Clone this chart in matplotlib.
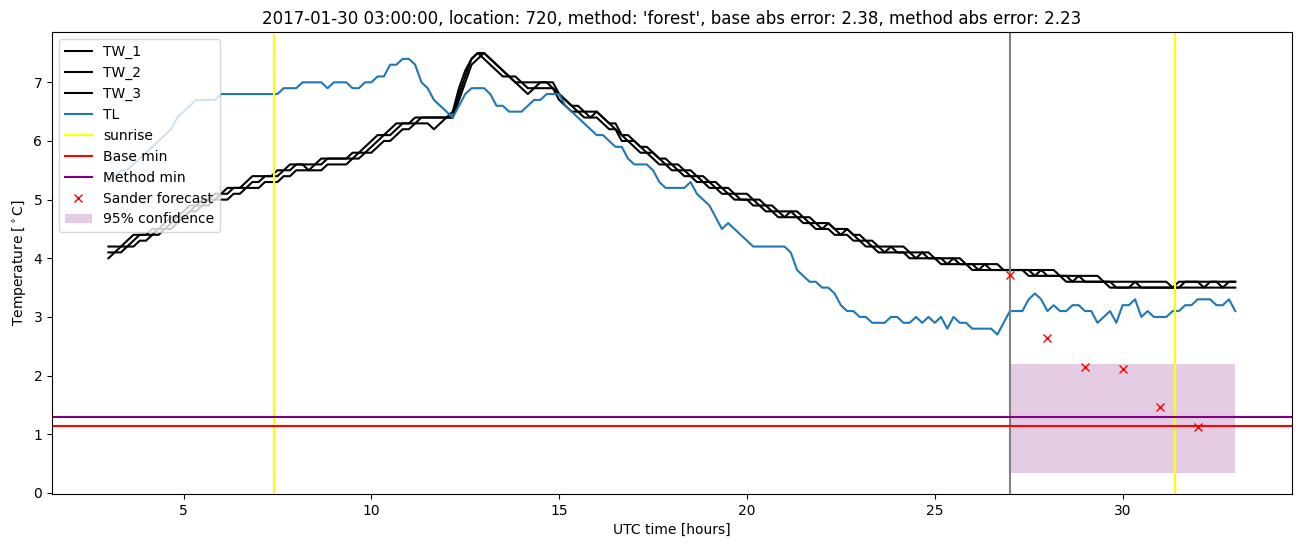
import matplotlib
matplotlib.use("Agg")
import matplotlib.pyplot as plt
import numpy as np
import pandas as pd

# measurements every 10 minutes, 2017-01-30 03:00 .. 2017-01-31 09:00 UTC
times = pd.date_range("2017-01-30 03:00", "2017-01-31 09:00", freq="10min")
hours = ((times - times[0].normalize()) / pd.Timedelta(hours=1)).to_numpy()

tw_1 = [
    4.2, 4.2, 4.2, 4.3, 4.4, 4.4,
    4.4, 4.5, 4.5, 4.6, 4.7, 4.7,
    4.8, 4.9, 4.9, 5.0, 5.0, 5.1,
    5.1, 5.2, 5.2, 5.2, 5.3, 5.4,
    5.4, 5.4, 5.4, 5.5, 5.5, 5.6,
    5.6, 5.6, 5.6, 5.6, 5.7, 5.7,
    5.7, 5.7, 5.7, 5.8, 5.8, 5.9,
    6.0, 6.1, 6.1, 6.2, 6.3, 6.3,
    6.3, 6.4, 6.4, 6.4, 6.4, 6.4,
    6.4, 6.5, 6.9, 7.2, 7.4, 7.5,
    7.4, 7.3, 7.2, 7.1, 7.1, 7.0,
    6.9, 6.8, 6.9, 6.9, 6.9, 6.9,
    6.7, 6.6, 6.5, 6.5, 6.4, 6.4,
    6.4, 6.3, 6.2, 6.2, 6.0, 6.0,
    5.9, 5.8, 5.8, 5.7, 5.6, 5.6,
    5.5, 5.5, 5.4, 5.4, 5.3, 5.3,
    5.2, 5.2, 5.1, 5.1, 5.0, 5.0,
    5.0, 4.9, 4.9, 4.8, 4.8, 4.7,
    4.7, 4.7, 4.7, 4.6, 4.6, 4.5,
    4.5, 4.5, 4.4, 4.4, 4.4, 4.3,
    4.3, 4.2, 4.2, 4.1, 4.1, 4.1,
    4.1, 4.1, 4.0, 4.0, 4.0, 4.0,
    4.0, 3.9, 3.9, 3.9, 3.9, 3.9,
    3.8, 3.8, 3.8, 3.8, 3.8, 3.8,
    3.8, 3.8, 3.8, 3.7, 3.7, 3.7,
    3.7, 3.7, 3.7, 3.6, 3.6, 3.6,
    3.6, 3.6, 3.6, 3.6, 3.5, 3.5,
    3.5, 3.5, 3.5, 3.5, 3.5, 3.5,
    3.5, 3.5, 3.5, 3.5, 3.5, 3.5,
    3.5, 3.5, 3.5, 3.5, 3.5, 3.5,
    3.5,
]

tw_2 = [
    4.1, 4.1, 4.2, 4.2, 4.3, 4.4,
    4.4, 4.4, 4.5, 4.5, 4.6, 4.7,
    4.7, 4.8, 4.9, 4.9, 5.0, 5.0,
    5.1, 5.1, 5.2, 5.2, 5.2, 5.3,
    5.3, 5.4, 5.4, 5.4, 5.5, 5.5,
    5.6, 5.6, 5.5, 5.6, 5.6, 5.7,
    5.7, 5.7, 5.7, 5.7, 5.8, 5.8,
    5.9, 6.0, 6.1, 6.1, 6.2, 6.3,
    6.3, 6.3, 6.4, 6.4, 6.4, 6.4,
    6.4, 6.4, 6.8, 7.1, 7.4, 7.5,
    7.5, 7.4, 7.3, 7.2, 7.1, 7.0,
    7.0, 6.9, 6.9, 7.0, 7.0, 6.9,
    6.8, 6.7, 6.6, 6.5, 6.5, 6.4,
    6.5, 6.4, 6.3, 6.2, 6.1, 6.0,
    6.0, 5.9, 5.8, 5.8, 5.7, 5.6,
    5.6, 5.5, 5.5, 5.4, 5.4, 5.3,
    5.3, 5.2, 5.2, 5.1, 5.1, 5.0,
    5.0, 5.0, 4.9, 4.9, 4.8, 4.8,
    4.7, 4.8, 4.7, 4.7, 4.6, 4.6,
    4.5, 4.6, 4.5, 4.4, 4.5, 4.4,
    4.3, 4.3, 4.2, 4.2, 4.1, 4.2,
    4.1, 4.1, 4.1, 4.0, 4.1, 4.0,
    4.0, 4.0, 3.9, 4.0, 3.9, 3.9,
    3.9, 3.8, 3.9, 3.8, 3.8, 3.8,
    3.8, 3.8, 3.8, 3.8, 3.7, 3.8,
    3.7, 3.7, 3.7, 3.7, 3.6, 3.7,
    3.6, 3.6, 3.6, 3.6, 3.6, 3.5,
    3.5, 3.5, 3.6, 3.5, 3.5, 3.5,
    3.5, 3.5, 3.5, 3.5, 3.6, 3.6,
    3.6, 3.5, 3.6, 3.6, 3.5, 3.6,
    3.6,
]

tw_3 = [
    4.0, 4.1, 4.1, 4.2, 4.2, 4.3,
    4.3, 4.4, 4.4, 4.5, 4.5, 4.6,
    4.7, 4.8, 4.8, 4.9, 4.9, 5.0,
    5.0, 5.0, 5.1, 5.1, 5.2, 5.2,
    5.2, 5.3, 5.3, 5.3, 5.4, 5.4,
    5.5, 5.5, 5.5, 5.5, 5.5, 5.6,
    5.6, 5.6, 5.6, 5.7, 5.7, 5.8,
    5.8, 5.9, 6.0, 6.0, 6.1, 6.2,
    6.2, 6.3, 6.3, 6.3, 6.2, 6.3,
    6.4, 6.4, 6.7, 7.0, 7.3, 7.4,
    7.5, 7.4, 7.3, 7.2, 7.1, 7.1,
    7.0, 7.0, 7.0, 7.0, 7.0, 7.0,
    6.8, 6.7, 6.6, 6.6, 6.5, 6.5,
    6.5, 6.4, 6.3, 6.3, 6.1, 6.1,
    6.0, 5.9, 5.9, 5.8, 5.7, 5.7,
    5.6, 5.6, 5.5, 5.5, 5.4, 5.4,
    5.3, 5.3, 5.2, 5.2, 5.1, 5.1,
    5.1, 5.0, 5.0, 4.9, 4.9, 4.8,
    4.8, 4.8, 4.8, 4.7, 4.7, 4.6,
    4.6, 4.6, 4.5, 4.5, 4.5, 4.4,
    4.4, 4.3, 4.3, 4.2, 4.2, 4.2,
    4.2, 4.2, 4.1, 4.1, 4.1, 4.1,
    4.0, 4.0, 4.0, 4.0, 4.0, 3.9,
    3.9, 3.9, 3.9, 3.9, 3.9, 3.8,
    3.8, 3.8, 3.8, 3.8, 3.8, 3.8,
    3.8, 3.8, 3.7, 3.7, 3.7, 3.7,
    3.7, 3.7, 3.7, 3.6, 3.6, 3.6,
    3.6, 3.6, 3.6, 3.6, 3.6, 3.6,
    3.6, 3.6, 3.5, 3.6, 3.6, 3.6,
    3.6, 3.6, 3.6, 3.6, 3.6, 3.6,
    3.6,
]

tl = [
    5.3, 5.4, 5.5, 5.5, 5.6, 5.7,
    5.8, 5.9, 6.0, 6.1, 6.2, 6.4,
    6.5, 6.6, 6.7, 6.7, 6.7, 6.7,
    6.8, 6.8, 6.8, 6.8, 6.8, 6.8,
    6.8, 6.8, 6.8, 6.8, 6.9, 6.9,
    6.9, 7.0, 7.0, 7.0, 7.0, 6.9,
    7.0, 7.0, 7.0, 6.9, 6.9, 7.0,
    7.0, 7.1, 7.1, 7.3, 7.3, 7.4,
    7.4, 7.3, 7.0, 6.9, 6.7, 6.6,
    6.5, 6.4, 6.6, 6.8, 6.9, 6.9,
    6.9, 6.8, 6.6, 6.6, 6.5, 6.5,
    6.5, 6.6, 6.7, 6.7, 6.8, 6.8,
    6.8, 6.6, 6.5, 6.4, 6.3, 6.2,
    6.1, 6.1, 6.0, 5.9, 5.9, 5.7,
    5.6, 5.6, 5.6, 5.5, 5.3, 5.2,
    5.2, 5.2, 5.2, 5.3, 5.1, 5.0,
    4.9, 4.7, 4.5, 4.6, 4.5, 4.4,
    4.3, 4.2, 4.2, 4.2, 4.2, 4.2,
    4.2, 4.1, 3.8, 3.7, 3.6, 3.6,
    3.5, 3.5, 3.4, 3.2, 3.1, 3.1,
    3.0, 3.0, 2.9, 2.9, 2.9, 3.0,
    3.0, 2.9, 2.9, 3.0, 2.9, 3.0,
    2.9, 3.0, 2.8, 3.0, 2.9, 2.9,
    2.8, 2.8, 2.8, 2.8, 2.7, 2.9,
    3.1, 3.1, 3.1, 3.3, 3.4, 3.3,
    3.1, 3.2, 3.1, 3.1, 3.2, 3.2,
    3.1, 3.1, 2.9, 3.0, 3.1, 2.9,
    3.2, 3.2, 3.3, 3.0, 3.1, 3.0,
    3.0, 3.0, 3.1, 3.1, 3.2, 3.2,
    3.3, 3.3, 3.3, 3.2, 3.2, 3.3,
    3.1,
]

sunrise = [7.4, 31.4]
forecast_start = 27
base_min = 1.14
method_min = 1.29

forecast_hours = [27, 28, 29, 30, 31, 32]
sander_forecast = [3.72, 2.64, 2.14, 2.11, 1.46, 1.13]
conf_hours = [27, 33]
conf_low = 0.34
conf_high = 2.2

title = ("2017-01-30 03:00:00, location: 720, method: 'forest', "
         "base abs error: 2.38, method abs error: 2.23")

fig, ax = plt.subplots(figsize=(13.02, 5.47), dpi=100)
fig.subplots_adjust(left=0.040, right=0.992, bottom=0.097, top=0.9415)

ax.plot(hours, tw_1, color="black", label="TW_1")
ax.plot(hours, tw_2, color="black", label="TW_2")
ax.plot(hours, tw_3, color="black", label="TW_3")
ax.plot(hours, tl, color="C0", label="TL")

ax.axvline(sunrise[0], color="yellow", label="sunrise")
ax.axvline(sunrise[1], color="yellow")
ax.axvline(forecast_start, color="grey")
ax.axhline(base_min, color="red", label="Base min")
ax.axhline(method_min, color="purple", label="Method min")
ax.plot(forecast_hours, sander_forecast, "rx", label="Sander forecast")
ax.fill_between(conf_hours, conf_low, conf_high, color="purple", alpha=0.2,
                linewidth=0, label="95% confidence")

ax.set_xlabel("UTC time [hours]")
ax.set_ylabel(r"Temperature [$^\circ$C]")
ax.set_title(title)
ax.legend(loc="upper left")

fig.savefig("out.png")
